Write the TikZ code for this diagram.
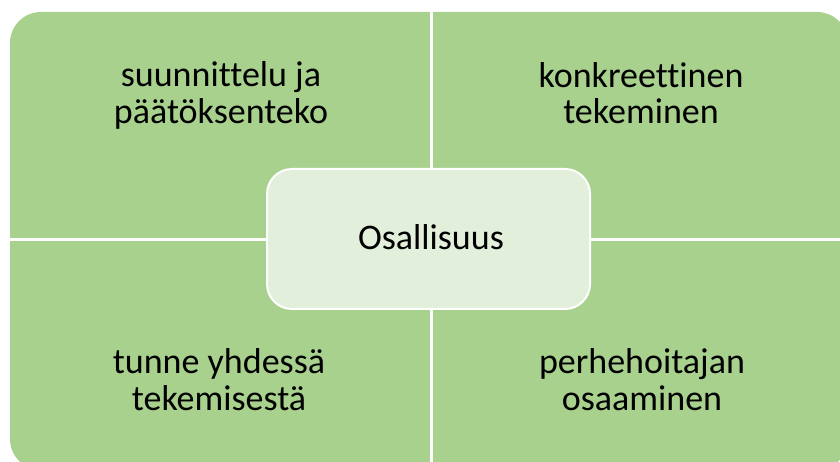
\documentclass[tikz,border=0pt]{standalone}
\usepackage{fontspec}
\setmainfont{Carlito}[Ligatures=NoCommon]
\definecolor{cellGreen}{RGB}{169, 209, 142}
\definecolor{hubGreen}{RGB}{226, 239, 218}

\begin{document}
\begin{tikzpicture}[x=1bp, y=-1bp,
    label/.style={align=center, inner sep=0pt, anchor=base,
      font=\fontsize{36bp}{36.5bp}\selectfont}]
      \useasboundingbox (0,0) rectangle (840,462);
      \clip (0,0) rectangle (840,462);
      \fill[cellGreen, rounded corners=31bp] (10,12) rectangle (848,470);
      \draw[white, line width=3bp] (431,0) -- (431,470);
      \draw[white, line width=3bp] (0,239.5) -- (850,239.5);
      \node[label] (plan) at (221,123.5) {suunnittelu ja\\päätöksenteko};
      \node[label] (doing) at (641,124) {konkreettinen\\tekeminen};
      \node[label] (feel) at (219,410) {tunne yhdessä\\tekemisestä};
      \node[label] (skill) at (642,410) {perhehoitajan\\osaaminen};
      \draw[white, line width=2bp, fill=hubGreen, rounded corners=25bp]
        (267,169) rectangle (590,309);
      \node[label] (hub) at (431,250) {Osallisuus};
    \end{tikzpicture}
\end{document}
